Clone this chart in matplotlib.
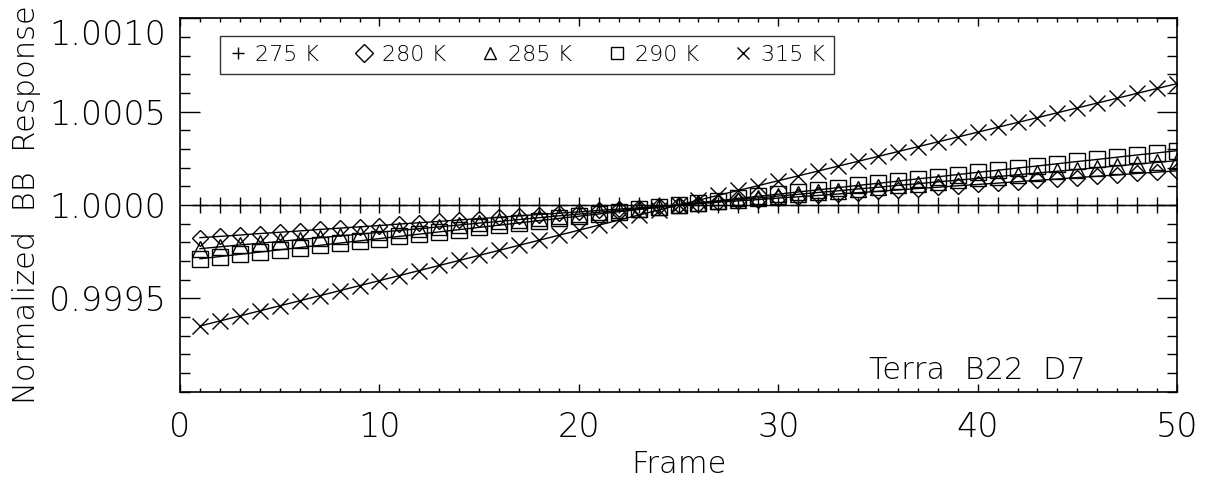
import matplotlib
matplotlib.use('Agg')
import matplotlib.pyplot as plt
from matplotlib.lines import Line2D
from matplotlib.transforms import ScaledTranslation
import numpy as np

# Frame numbers and normalized BB response (deviation from 1, in ppm)
frames = list(range(1, 51))

dev_275 = [0] * 50
dev_280 = [-175, -168, -161, -153, -146, -139, -131, -124, -117, -110,
           -102, -95, -88, -80, -73, -66, -58, -51, -44, -37,
           -29, -22, -15, -7, 0, 7, 15, 22, 29, 37,
           44, 51, 59, 66, 73, 81, 88, 95, 103, 110,
           117, 125, 132, 139, 147, 154, 161, 169, 176, 183]
dev_285 = [-234, -224, -214, -205, -195, -185, -175, -166, -156, -146,
           -136, -127, -117, -107, -97, -88, -78, -68, -58, -49,
           -39, -29, -19, -10, 0, 10, 19, 29, 38, 48,
           57, 67, 76, 86, 95, 105, 114, 124, 133, 143,
           152, 162, 171, 181, 190, 200, 209, 219, 228, 238]
dev_290 = [-288, -276, -264, -252, -240, -228, -216, -204, -192, -180,
           -168, -156, -144, -132, -120, -108, -96, -84, -72, -60,
           -48, -36, -24, -12, 0, 12, 23, 35, 47, 58,
           70, 81, 93, 105, 116, 128, 140, 151, 163, 175,
           186, 198, 209, 221, 233, 244, 256, 268, 279, 291]
dev_315 = [-648, -621, -594, -567, -540, -513, -486, -459, -432, -405,
           -378, -351, -324, -297, -270, -243, -216, -189, -162, -135,
           -108, -81, -54, -27, 0, 26, 52, 78, 104, 130,
           156, 182, 208, 234, 260, 286, 312, 338, 364, 390,
           416, 442, 468, 494, 520, 546, 572, 598, 624, 650]

labels = ['275 K', '280 K', '285 K', '290 K', '315 K']
markers = ['+', 'D', '^', 's', 'x']
msizes = [12, 8, 11, 11, 12]
yticks = [0.9995, 1.0000, 1.0005, 1.0010]
ytick_labels = ['0.9995', '1.0000', '1.0005', '1.0010']
xticks = [0, 10, 20, 30, 40, 50]

plt.rcParams['font.family'] = ['DejaVu Sans']
plt.rcParams['font.weight'] = 'light'
plt.rcParams['axes.labelweight'] = 'light'

fig = plt.figure(figsize=(12.06, 4.90), dpi=100)
ax = fig.add_axes([0.1493, 0.2006, 0.8267, 0.7621])

series = [dev_275, dev_280, dev_285, dev_290, dev_315]
for dev, m, ms in zip(series, markers, msizes):
    y = 1.0 + np.array(dev) * 1e-6
    ax.plot(frames, y, color='black', linewidth=1.0, marker=m, markersize=ms,
            markerfacecolor='none', markeredgecolor='black', markeredgewidth=1.0)

ax.set_xlim(0, 50)
ax.set_ylim(0.9990, 1.0010)
ax.set_xticks(xticks)
ax.set_xticks(np.arange(0, 51, 1), minor=True)
ax.set_yticks(yticks)
ax.set_yticklabels(ytick_labels)
ax.set_yticks(np.arange(0.9990, 1.00101, 0.0001), minor=True)

ax.tick_params(axis='both', which='both', direction='in', top=True, right=True,
               colors='black', width=1.0)
ax.tick_params(axis='x', which='major', length=5.5, pad=14, labelsize=24)
ax.tick_params(axis='x', which='minor', length=2.7)
ax.tick_params(axis='y', which='major', length=14.4, pad=10, labelsize=24)
ax.tick_params(axis='y', which='minor', length=7.2)
for s in ax.spines.values():
    s.set_linewidth(1.2)

# top y label sits a bit below the axis top, as in the original
top_lbl = ax.get_yticklabels()[-1]
top_lbl.set_transform(top_lbl.get_transform() +
                      ScaledTranslation(0, -10 / 72, fig.dpi_scale_trans))

ax.set_xlabel('Frame', fontsize=22, fontweight='light', labelpad=4)
ax.set_ylabel('Normalized  BB  Response', fontsize=22, fontweight='light', labelpad=6)

ax.text(0.908, 0.035, 'Terra  B22  D7', transform=ax.transAxes, ha='right',
        va='baseline', fontsize=22)

handles = [Line2D([], [], linestyle='none', marker=m, markersize=9,
                  markerfacecolor='none', markeredgecolor='black', markeredgewidth=1.0)
           for m in markers]
leg = ax.legend(handles, labels, ncol=5, loc='upper left', bbox_to_anchor=(0.04, 0.9526),
                borderaxespad=0, frameon=True, fancybox=False, fontsize=16,
                handlelength=0.8, handletextpad=0.4, columnspacing=1.6,
                borderpad=0.4)
leg.get_frame().set_edgecolor('black')
leg.get_frame().set_linewidth(1.0)

plt.savefig('out.png', dpi=100)
